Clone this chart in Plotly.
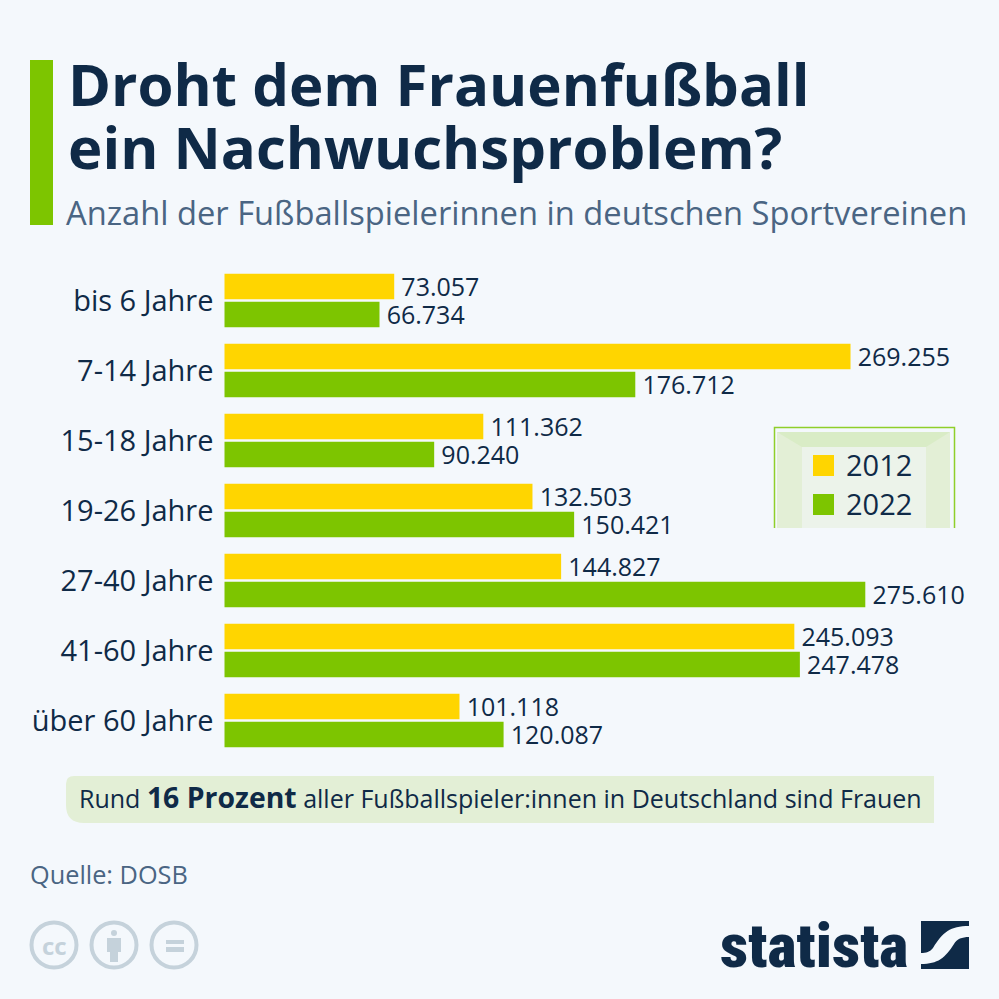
import plotly.graph_objects as go

# Daten
altersgruppen = ["bis 6 Jahre", "7-14 Jahre", "15-18 Jahre", "19-26 Jahre",
                 "27-40 Jahre", "41-60 Jahre", "über 60 Jahre"]
werte_2012 = [73057, 269255, 111362, 132503, 144827, 245093, 101118]
werte_2022 = [66734, 176712, 90240, 150421, 275610, 247478, 120087]

GELB = "#ffd500"
GRUEN = "#7dc500"
DUNKEL = "#0f2a47"
GRAU = "#4a6583"
HELL = "#c5d2db"
FONT = "Open Sans"


def px(x):
    return x / 999


def py(y):
    return 1 - y / 999


def pfad(punkte, zu=True):
    # Pfad aus Pixelkoordinaten des Bildes
    teile = []
    for p in punkte:
        if isinstance(p, str):
            teile.append(p)
        else:
            teile.append(f"{px(p[0]):.5f},{py(p[1]):.5f}")
    return "M" + " ".join(teile) + (" Z" if zu else "")


def deutsch(werte):
    # schmales Leerzeichen als Abstand zum Balken
    return ["\u2009" + f"{v:,}".replace(",", ".") for v in werte]


def rechteck(x0, y0, x1, y1, farbe):
    return dict(type="rect", xref="paper", yref="paper", x0=px(x0), x1=px(x1),
                y0=py(y1), y1=py(y0), fillcolor=farbe, line_width=0, layer="below")


def flaeche(punkte, farbe):
    return dict(type="path", xref="paper", yref="paper", path=pfad(punkte),
                fillcolor=farbe, line_width=0, layer="below")


def kreis(cx, cy, r, farbe, fuellung="rgba(0,0,0,0)", breite=4):
    return dict(type="circle", xref="paper", yref="paper", x0=px(cx - r), x1=px(cx + r),
                y0=py(cy + r), y1=py(cy - r), fillcolor=fuellung,
                line=dict(color=farbe, width=breite), layer="below")


def text(x, y, inhalt, groesse, farbe=DUNKEL, anker="left", fam=FONT, gewicht=None):
    return dict(xref="paper", yref="paper", x=px(x), y=py(y), text=inhalt, showarrow=False,
                xanchor=anker, yanchor="middle", align=anker,
                font=dict(family=fam, size=groesse, color=farbe, weight=gewicht))


fig = go.Figure()
fig.add_trace(go.Bar(y=altersgruppen, x=werte_2012, name="2012", orientation="h",
                     marker=dict(color=GELB, line_width=0), text=deutsch(werte_2012)))
fig.add_trace(go.Bar(y=altersgruppen, x=werte_2022, name="2022", orientation="h",
                     marker=dict(color=GRUEN, line_width=0), text=deutsch(werte_2022)))
fig.update_traces(textposition="outside", cliponaxis=False, constraintext="none",
                  textfont=dict(family=FONT, size=25, color=DUNKEL))

formen = [
    rechteck(30, 60, 53, 225, GRUEN),
    # Tor hinter der Legende
    rechteck(777, 432, 950, 528, "#e3efd6"),
    flaeche([(777, 432), "L", (950, 432), "L", (926, 447), "L", (802, 447)], "#d9ecc6"),
    rechteck(802, 447, 926, 528, "#ecf3ea"),
    dict(type="path", xref="paper", yref="paper", layer="below", fillcolor="rgba(0,0,0,0)",
         line=dict(color="#8fcf2a", width=1.5),
         path=pfad([(774.5, 528), "L", (774.5, 427.5), "L", (954.5, 427.5), "L", (954.5, 528)], zu=False)),
    rechteck(813, 455, 834, 476, GELB),
    rechteck(813, 494, 834, 515, GRUEN),
    # Hinweisbox
    dict(type="path", xref="paper", yref="paper", line_width=0, fillcolor="#e3efd6", layer="below",
         path=pfad([(74, 776), "L", (934, 776), "L", (934, 823), "L", (84, 823),
                    "Q", (66, 823), (66, 805), "L", (66, 784), "Q", (66, 776), (74, 776)])),
    # CC-Symbole
    kreis(54, 945, 22.5, HELL), kreis(114, 945, 22.5, HELL), kreis(174, 945, 22.5, HELL),
    kreis(114, 933, 3, HELL, HELL, 0),
    rechteck(107, 938, 121, 952, HELL),
    rechteck(110, 950, 118, 962, HELL),
    rechteck(166, 940, 184, 944, HELL),
    rechteck(166, 947, 184, 952, HELL),
    # Statista-Logo
    flaeche([(921, 921), "L", (969, 921), "L", (969, 926),
             "C", (950, 926), (943, 932), (933, 948), "C", (930, 952), (926, 953), (921, 953)], DUNKEL),
    flaeche([(969, 937), "L", (969, 969), "L", (921, 969), "L", (921, 964),
             "C", (938, 964), (945, 958), (954, 944), "C", (957, 939), (962, 937), (969, 937)], DUNKEL),
]

notizen = [
    text(65.5, 83, "<b>Droht dem Frauenfußball</b>", 58.2),
    text(65.5, 146, "<b>ein Nachwuchsproblem?</b>", 58.2),
    text(63.5, 213, "Anzahl der Fußballspielerinnen in deutschen Sportvereinen", 32.7, GRAU),
    text(844, 464.5, "2012", 29),
    text(844, 503.5, "2022", 29),
    text(77, 796.5, "Rund <b><span style='font-size:28.4px'>16 Prozent</span></b> aller "
                    "Fußballspieler:innen in Deutschland sind Frauen", 25),
    text(27.5, 874, "Quelle: DOSB", 25.3, GRAU),
    text(54, 945, "<b>cc</b>", 24, HELL, "center"),
    text(718, 945, "statista", 62, DUNKEL, "left",
         "Roboto Condensed, Open Sans Condensed, Liberation Sans Narrow, DejaVu Sans Condensed, Roboto", 900),
]

# 641 Pixel entsprechen 275.610 Spielerinnen
fig.update_layout(
    width=999, height=999, margin=dict(l=0, r=0, t=0, b=0),
    paper_bgcolor="#f4f8fc", plot_bgcolor="rgba(0,0,0,0)",
    barmode="group", bargap=0.2, bargroupgap=0.09, showlegend=False,
    shapes=formen, annotations=notizen,
    font=dict(family=FONT, color=DUNKEL),
    xaxis=dict(domain=[px(224.3), 1], range=[0, (999 - 224.3) / (641 / 275610)], visible=False),
    yaxis=dict(domain=[py(755.4), py(265.4)], range=[6.5, -0.5], type="category",
               categoryorder="array", categoryarray=altersgruppen,
               showgrid=False, zeroline=False, showline=False,
               ticks="outside", ticklen=4, tickcolor="rgba(0,0,0,0)",
               tickfont=dict(family=FONT, size=29, color=DUNKEL)),
)

# Browser-Rand der Seite entfernen
fig.write_html("out.html", config=dict(displayModeBar=False),
               post_script="document.body.style.margin='0';document.body.style.background='#f4f8fc';")
